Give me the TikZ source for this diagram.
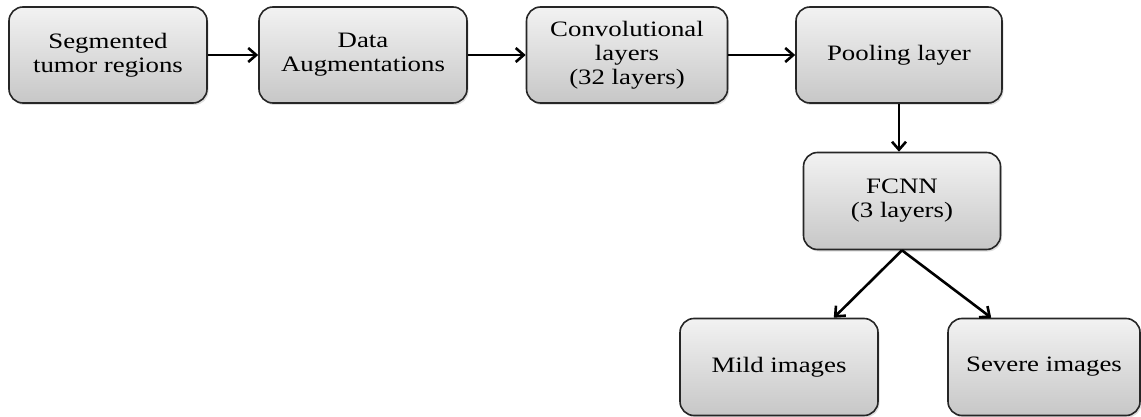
\documentclass[tikz,border=0pt]{standalone}
\usepackage{fontspec}
\setmainfont{Liberation Serif}[FakeStretch=1.22]
\usetikzlibrary{arrows.meta,shadows}
\begin{document}
\begin{tikzpicture}[x=1pt,y=1pt,
  box/.style={draw=black!85, line width=1.6pt, rounded corners=14pt,
    top color=black!5, bottom color=black!22,
    drop shadow={shadow xshift=1.5pt, shadow yshift=-2pt, opacity=0.25},
    align=center, inner sep=0pt, font=\fontsize{22}{24}\selectfont,
    minimum height=96pt},
  arr/.style={line width=2.6pt, -{Straight Barb[length=8pt,width=14pt,line width=2.6pt]}}]
\useasboundingbox (0,0) rectangle (1141,-417);
\node[box, minimum width=198pt] (seg) at (108,-55) {Segmented\\tumor regions};
\node[box, minimum width=208pt] (aug) at (363,-55) {Data\\Augmentations};
\node[box, minimum width=201pt] (conv) at (627,-55) {Convolutional\\layers\\(32 layers)};
\node[box, minimum width=206pt] (pool) at (899,-55) {Pooling layer};
\node[box, minimum width=197pt, minimum height=97pt] (fcnn) at (902,-201) {FCNN\\(3 layers)};
\node[box, minimum width=198pt, minimum height=97pt] (mild) at (779,-367) {Mild images};
\node[box, minimum width=192pt, minimum height=97pt] (sev) at (1044,-367) {Severe images};
\draw[arr] (seg.east) -- (aug.west);
\draw[arr] (aug.east) -- (conv.west);
\draw[arr] (conv.east) -- (pool.west);
\draw[arr] (pool.south) -- (pool.south |- fcnn.north);
\draw[arr] (fcnn.south) -- ([xshift=-45pt]mild.north east);
\draw[arr] (fcnn.south) -- ([xshift=44pt]sev.north west);
\end{tikzpicture}
\end{document}
